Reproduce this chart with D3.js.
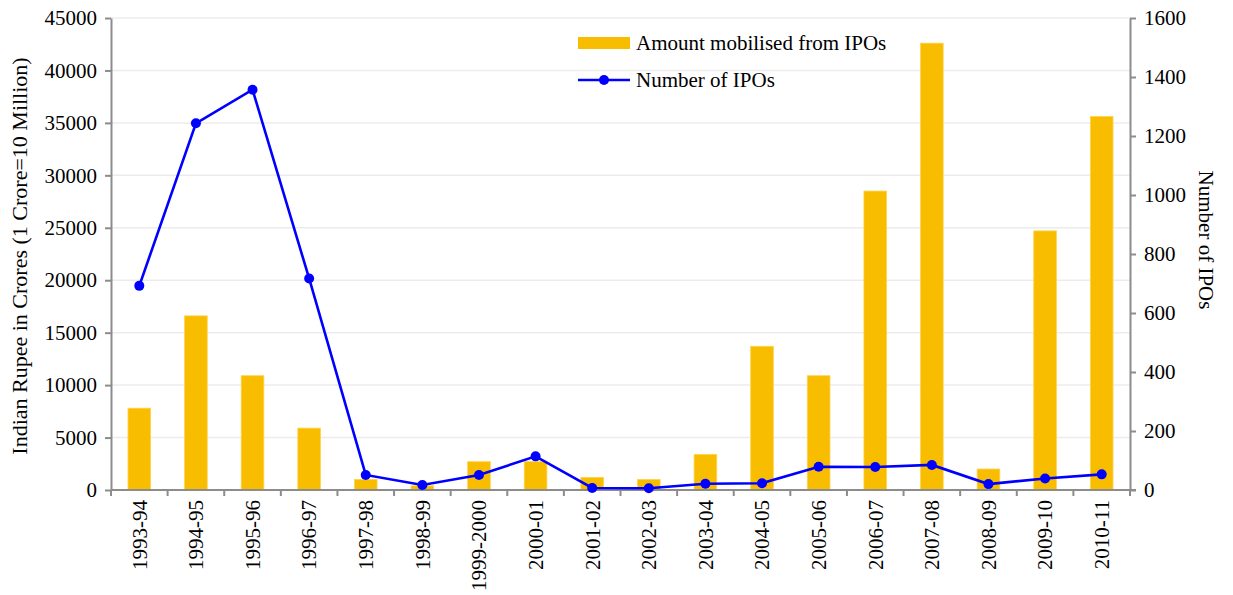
<!DOCTYPE html>
<meta charset="UTF-8">
<style>
  body { margin: 0; background: #fff; }
  svg text { font-family: "Times New Roman", "Liberation Serif", Times, serif !important; fill: #000; }
  .grid line { stroke: #ececec; stroke-width: 1.5px; }
  .axis path, .axis line { stroke: #8c8c8c; stroke-width: 2px; }
  .bar { fill: #f9bd00; stroke: #ffd24d; stroke-width: 0.8px; }
  .ipo-line { fill: none; stroke: #0000ff; stroke-width: 2.6px; }
  .ipo-dot { fill: #0000ff; }
</style>
<body>
<script src="https://cdnjs.cloudflare.com/ajax/libs/d3/7.8.5/d3.min.js"></script>
<script>
// data
const years = ["1993-94", "1994-95", "1995-96", "1996-97", "1997-98", "1998-99",
  "1999-2000", "2000-01", "2001-02", "2002-03", "2003-04", "2004-05", "2005-06",
  "2006-07", "2007-08", "2008-09", "2009-10", "2010-11"];
const amount = [7800, 16600, 10900, 5900, 1000, 400, 2700, 2700, 1200, 1000,
  3400, 13700, 10900, 28500, 42600, 2000, 24700, 35600];
const numIPOs = [692, 1243, 1357, 717, 51, 17, 51, 114, 7, 6, 21, 23, 79, 78, 85, 20, 39, 53];
const leftTicks = d3.range(0, 45001, 5000);
const rightTicks = d3.range(0, 1601, 200);

const W = 1233, H = 595;
const margin = {top: 18, right: 103, bottom: 105, left: 111};
const width = W - margin.left - margin.right,
    height = H - margin.top - margin.bottom;
const serif = '"Times New Roman", "Liberation Serif", Times, serif';

const svg = d3.select("body").append("svg")
    .attr("width", W)
    .attr("height", H)
    .attr("font-family", serif);
const g = svg.append("g")
    .attr("transform", "translate(" + margin.left + "," + margin.top + ")");

const x = d3.scaleBand().domain(years).range([0, width]).paddingInner(0.6).paddingOuter(0.3);
const band = d3.scaleBand().domain(years).range([0, width]);
const yL = d3.scaleLinear().domain([0, 45000]).range([height, 0]);
const yR = d3.scaleLinear().domain([0, 1600]).range([height, 0]);

// gridlines on the left-axis ticks
g.append("g").attr("class", "grid")
  .selectAll("line").data(leftTicks.slice(1)).join("line")
    .attr("x1", 0).attr("x2", width)
    .attr("y1", d => yL(d)).attr("y2", d => yL(d));

// bars
g.selectAll("rect.bar").data(years).join("rect")
    .attr("class", "bar")
    .attr("x", d => x(d))
    .attr("width", x.bandwidth())
    .attr("y", (d, i) => yL(amount[i]))
    .attr("height", (d, i) => height - yL(amount[i]));

// axes
const fs = "21px";
const axL = g.append("g").attr("class", "axis")
    .call(d3.axisLeft(yL).tickValues(leftTicks).tickFormat(d3.format("d"))
      .tickSize(6).tickSizeOuter(0).tickPadding(8));
axL.attr("font-family", serif).selectAll("text").style("font-size", fs);

const axR = g.append("g").attr("class", "axis")
    .attr("transform", "translate(" + width + ",0)")
    .call(d3.axisRight(yR).tickValues(rightTicks).tickFormat(d3.format("d"))
      .tickSize(6).tickSizeOuter(0).tickPadding(8));
axR.attr("font-family", serif).selectAll("text").style("font-size", fs);

// x axis: ticks on band boundaries
const axB = g.append("g").attr("class", "axis")
    .attr("transform", "translate(0," + height + ")");
axB.append("line").attr("x1", 0).attr("x2", width + 6);
axB.selectAll("line.tk").data(years.concat(["end"])).join("line")
    .attr("class", "tk")
    .attr("x1", (d, i) => i * band.step()).attr("x2", (d, i) => i * band.step())
    .attr("y1", 0).attr("y2", 6);
axB.selectAll("text").data(years).join("text")
    .attr("transform", d => "translate(" + (band(d) + band.bandwidth() / 2) + ",10) rotate(-90)")
    .attr("text-anchor", "end")
    .attr("dy", "0.35em")
    .style("font-size", fs)
    .text(d => d);

// IPO count line
const line = d3.line()
    .x((d, i) => band(years[i]) + band.bandwidth() / 2)
    .y(d => yR(d));
g.append("path").datum(numIPOs).attr("class", "ipo-line").attr("d", line);
g.selectAll("circle.ipo-dot").data(numIPOs).join("circle")
    .attr("class", "ipo-dot")
    .attr("cx", (d, i) => band(years[i]) + band.bandwidth() / 2)
    .attr("cy", d => yR(d))
    .attr("r", 5);

// axis titles
svg.append("text")
    .attr("transform", "translate(27,256) rotate(-90)")
    .attr("text-anchor", "middle")
    .style("font-size", "22px")
    .text("Indian Rupee in Crores (1 Crore=10 Million)");
svg.append("text")
    .attr("transform", "translate(1199,240) rotate(90)")
    .attr("text-anchor", "middle")
    .style("font-size", fs)
    .text("Number of IPOs");

// legend
const lg = svg.append("g").attr("transform", "translate(578,43)");
lg.append("rect").attr("x", 0).attr("y", -6).attr("width", 52).attr("height", 12).attr("fill", "#f9bd00");
lg.append("text").attr("x", 58).attr("y", 0).attr("dy", "0.35em").style("font-size", fs)
    .text("Amount mobilised from IPOs");
lg.append("line").attr("x1", 0).attr("x2", 52).attr("y1", 37).attr("y2", 37)
    .attr("stroke", "#0000ff").attr("stroke-width", 2.6);
lg.append("circle").attr("cx", 26).attr("cy", 37).attr("r", 5).attr("fill", "#0000ff");
lg.append("text").attr("x", 58).attr("y", 37).attr("dy", "0.35em").style("font-size", fs)
    .text("Number of IPOs");
</script>
</body>
